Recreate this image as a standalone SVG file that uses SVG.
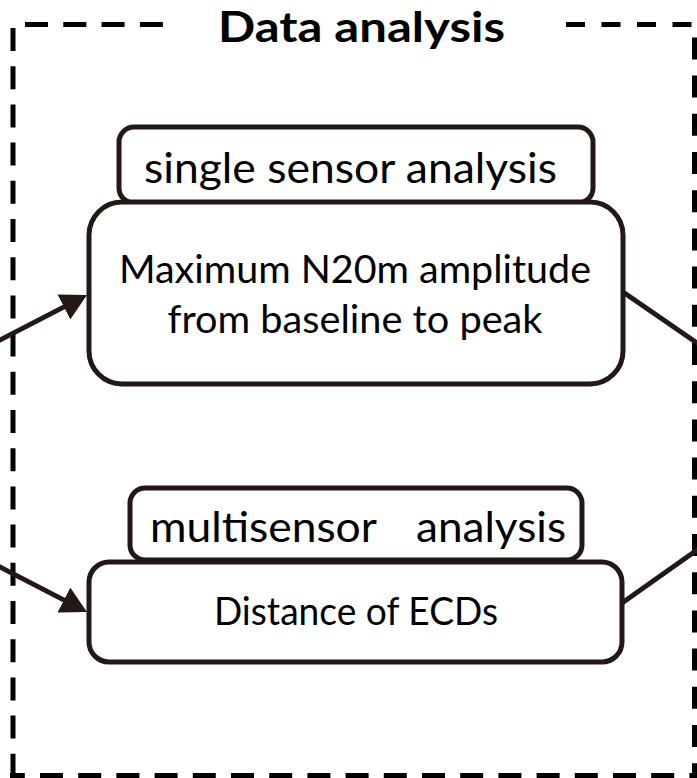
<svg xmlns="http://www.w3.org/2000/svg" width="697" height="778" viewBox="0 0 697 778">
  <style>
    .frame{fill:none;stroke:#000;stroke-width:5;stroke-dasharray:23 15.2}
    .box{fill:#fff;stroke:#231815;stroke-width:5}
    .conn{fill:none;stroke:#231815;stroke-width:5;stroke-linecap:butt}
    .t{font-family:Lato,"Open Sans","Noto Sans",sans-serif;fill:#000;text-anchor:start}
    .title{font-weight:bold;font-size:42px}
    .head{font-size:43px}
    .body{font-size:38px}
  </style>
  <defs>
    <marker id="arrow" markerUnits="userSpaceOnUse" markerWidth="26" markerHeight="28" viewBox="0 0 26 28" refX="16" refY="14" orient="auto">
      <path d="M0,0 L26,14 L0,28 Z" fill="#231815"/>
    </marker>
  </defs>
  <rect width="697" height="778" fill="#fff"/>

  <!-- dashed frame around the analysis block -->
  <g id="frame">
    <line class="frame" x1="25" y1="24.5" x2="170" y2="24.5" style="stroke-dasharray:23 15.3"/>
    <line class="frame" x1="566" y1="24.5" x2="697" y2="24.5" style="stroke-dasharray:19 16.5"/>
    <line class="frame" x1="13" y1="28" x2="13" y2="778"/>
    <line class="frame" x1="10" y1="775.5" x2="697" y2="775.5" style="stroke-dashoffset:8.2"/>
    <line class="frame" x1="694.5" y1="37.4" x2="694.5" y2="778" style="stroke-dasharray:22 16.2"/>
  </g>

  <g id="title">
    <text class="t title" x="218" y="42" textLength="287" lengthAdjust="spacingAndGlyphs">Data analysis</text>
  </g>

  <g id="node-single-header">
    <rect class="box" x="119" y="127" width="474" height="76" rx="15"/>
    <text class="t head" x="144" y="183" textLength="413" lengthAdjust="spacingAndGlyphs">single sensor analysis</text>
  </g>

  <g id="node-single">
    <rect class="box" x="89" y="202" width="534" height="182" rx="33"/>
    <text class="t body" x="119" y="283" textLength="472" lengthAdjust="spacingAndGlyphs">Maximum N20m amplitude</text>
    <text class="t body" x="167.5" y="333" textLength="375" lengthAdjust="spacingAndGlyphs">from baseline to peak</text>
  </g>

  <g id="node-multi-header">
    <rect class="box" x="130" y="488" width="452" height="72" rx="15"/>
    <text class="t head" y="542"><tspan x="150" textLength="226" lengthAdjust="spacingAndGlyphs">multisensor</tspan> <tspan x="416" textLength="150" lengthAdjust="spacingAndGlyphs">analysis</tspan></text>
  </g>

  <g id="node-multi">
    <rect class="box" x="89" y="562" width="533" height="100" rx="20"/>
    <text class="t body" x="214" y="625" textLength="284" lengthAdjust="spacingAndGlyphs">Distance of ECDs</text>
  </g>

  <g id="connectors">
    <line class="conn" x1="-5" y1="342.6" x2="78.1" y2="299.6" marker-end="url(#arrow)"/>
    <line class="conn" x1="-5" y1="564.4" x2="78.1" y2="607.4" marker-end="url(#arrow)"/>
    <line class="conn" x1="623" y1="292" x2="705" y2="348.5"/>
    <line class="conn" x1="622" y1="603" x2="705" y2="544.3"/>
  </g>
</svg>
